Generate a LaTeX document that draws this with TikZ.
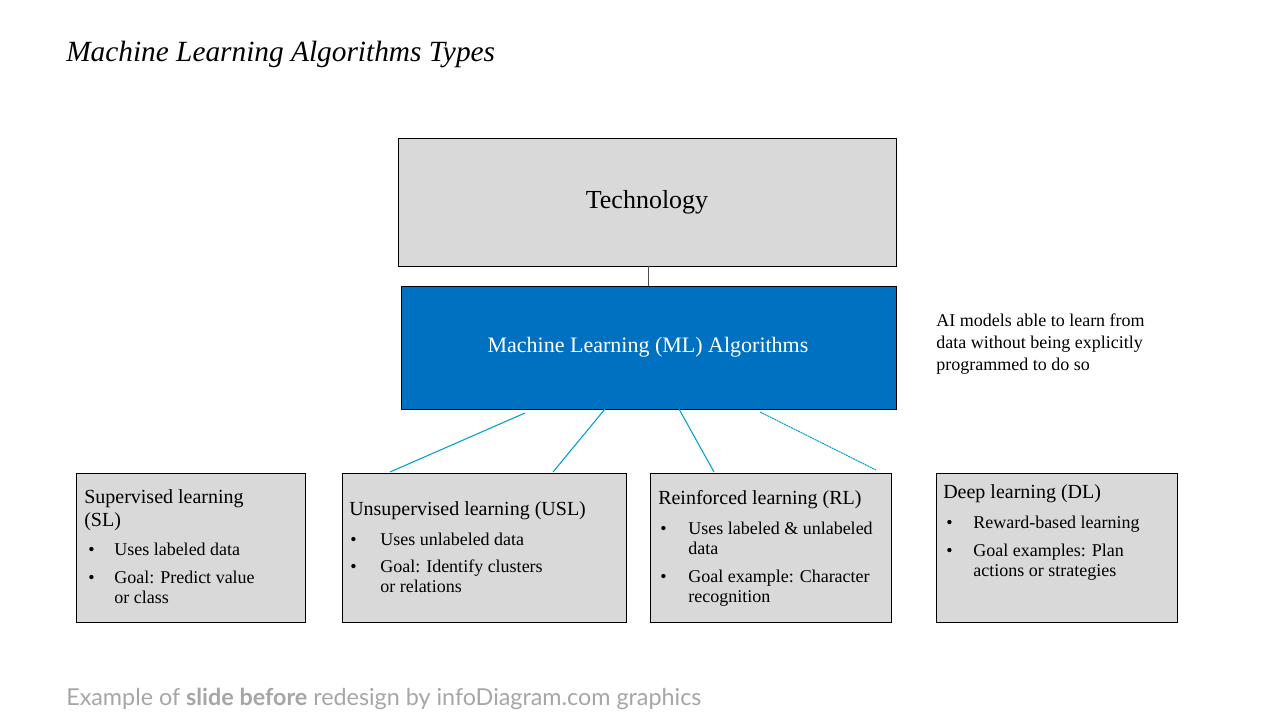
\documentclass[tikz,border=0pt]{standalone}
\usepackage{fontspec}
\setmainfont{Liberation Serif}
\newfontfamily\footfont{Lato}
\begin{document}
\begin{tikzpicture}[x=0.75pt,y=-0.75pt,
  gbox/.style={draw=black,fill={rgb,255:red,217;green,217;blue,217},line width=0.6pt},
  txt/.style={anchor=base west,inner sep=0pt,font=\fontsize{13.5}{15}\selectfont},
  link/.style={draw={rgb,255:red,0;green,160;blue,210},line width=0.8pt}]
\useasboundingbox (0,0) rectangle (1280,720);
\node[anchor=base west,inner sep=0pt,font=\fontsize{22}{26}\selectfont\itshape] (title) at (66,62) {Machine Learning Algorithms Types};
\draw[gbox] (398,138) rectangle (896,266);
\node (tech) at (647,202) {\fontsize{19.5}{22}\selectfont Technology};
\draw[draw=black,fill={rgb,255:red,0;green,112;blue,192},line width=0.6pt] (401,286) rectangle (896,409);
\node[text=white] (ml) at (648,347) {\fontsize{16.5}{20}\selectfont Machine Learning (ML) Algorithms};
\coordinate (t1) at (648,266); \coordinate (t2) at (648,286);
\draw[line width=0.6pt,black!70] (t1) -- (t2);
\node[txt] (d1) at (936,326) {AI models able to learn from};
\node[txt] (d2) at (936,348) {data without being explicitly};
\node[txt] (d3) at (936,370) {programmed to do so};
% boxes
\draw[gbox] (76,473) rectangle (305,622);
\draw[gbox] (342,473) rectangle (626,622);
\draw[gbox] (650,473) rectangle (891,622);
\draw[gbox] (936,473) rectangle (1177,622);
% links
\coordinate (a1) at (525,413); \coordinate (a2) at (390,472);
\coordinate (b1) at (605,409); \coordinate (b2) at (553,472);
\coordinate (c1) at (679,409); \coordinate (c2) at (714,472);
\coordinate (e1) at (760,412); \coordinate (e2) at (876,470);
\draw[link] (a1) -- (a2); \draw[link] (b1) -- (b2);
\draw[link] (c1) -- (c2); \draw[link,dash pattern=on 1.5pt off 0.5pt] (e1) -- (e2);
% SL
\node[txt,font=\fontsize{15}{17}\selectfont] (s0) at (84,503) {Supervised learning};
\node[txt,font=\fontsize{15}{17}\selectfont] (s0b) at (84,526) {(SL)};
\node[txt] (s1) at (88,555) {•}; \node[txt] (s1t) at (114,555) {Uses labeled data};
\node[txt] (s2) at (88,583) {•}; \node[txt] (s2t) at (114,583) {Goal: Predict value};
\node[txt] (s2u) at (114,603) {or class};
% USL
\node[txt,font=\fontsize{15}{17}\selectfont] (u0) at (349,515) {Unsupervised learning (USL)};
\node[txt] (u1) at (350,545) {•}; \node[txt] (u1t) at (380,545) {Uses unlabeled data};
\node[txt] (u2) at (350,572) {•}; \node[txt] (u2t) at (380,572) {Goal: Identify clusters};
\node[txt] (u2u) at (380,592) {or relations};
% RL
\node[txt,font=\fontsize{15}{17}\selectfont] (r0) at (658,504) {Reinforced learning (RL)};
\node[txt] (r1) at (660,534) {•}; \node[txt] (r1t) at (688,534) {Uses labeled \& unlabeled};
\node[txt] (r1u) at (688,554) {data};
\node[txt] (r2) at (660,582) {•}; \node[txt] (r2t) at (688,582) {Goal example: Character};
\node[txt] (r2u) at (688,602) {recognition};
% DL
\node[txt,font=\fontsize{15}{17}\selectfont] (e0) at (943,498) {Deep learning (DL)};
\node[txt] (e1n) at (946,528) {•}; \node[txt] (e1t) at (973,528) {Reward-based learning};
\node[txt] (e2n) at (946,556) {•}; \node[txt] (e2t) at (973,556) {Goal examples: Plan};
\node[txt] (e2u) at (973,576) {actions or strategies};
% footer
\node[anchor=base west,inner sep=0pt,text={rgb,255:red,166;green,166;blue,166},font=\footfont\fontsize{17.5}{20}\selectfont] (foot) at (66,705) {Example of \textbf{slide before} redesign by infoDiagram.com graphics};
\end{tikzpicture}
\end{document}
